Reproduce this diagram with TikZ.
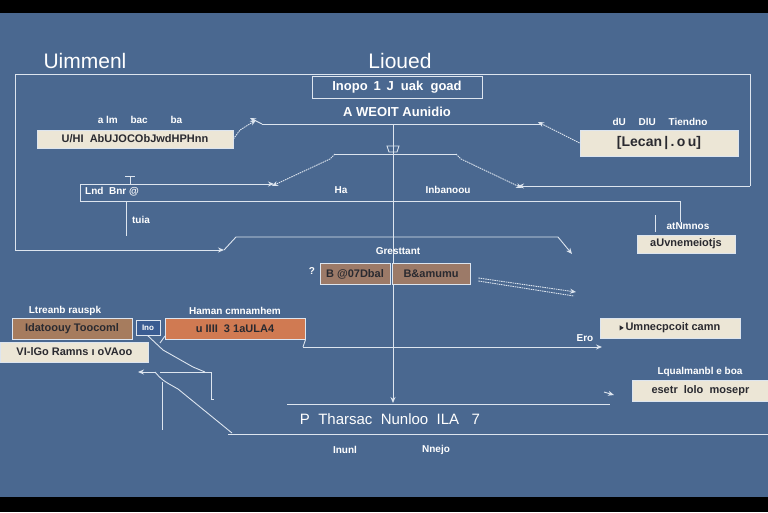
\documentclass[tikz,border=0pt]{standalone}
\usepackage{fontspec}
\setmainfont{Liberation Sans}
\usetikzlibrary{arrows.meta}
\definecolor{bgc}{HTML}{4A6890}
\definecolor{linec}{HTML}{DDE5EF}
\definecolor{cream}{HTML}{ECE6D6}
\definecolor{darktext}{HTML}{2A2A30}
\definecolor{brownb}{HTML}{9C7A68}
\definecolor{brownl}{HTML}{A67C5E}
\definecolor{orangeb}{HTML}{D07A52}
\definecolor{smallb}{HTML}{3A5C92}
\begin{document}
\begin{tikzpicture}[x=1pt,y=-1pt,
  lbl/.style={text=white,font=\bfseries\fontsize{10}{10}\selectfont,inner sep=0pt},
  ttl/.style={text=white,font=\fontsize{21}{21}\selectfont,inner sep=0pt},
  cbox/.style={draw=linec,line width=0.8pt,fill=cream,text=darktext,font=\bfseries\fontsize{11}{11}\selectfont,inner sep=0pt,minimum height=#1},
  cbox/.default=18pt,
  fbox/.style={draw=linec,line width=0.8pt,fill=#1,text=darktext,font=\bfseries\fontsize{11}{11}\selectfont,inner sep=0pt,minimum height=21pt},
  ln/.style={draw=linec,line width=0.9pt},
  tln/.style={draw=linec,line width=0.5pt},
  dln/.style={draw=linec,line width=0.9pt,dash pattern=on 1.5pt off 0.8pt},
  arr/.style={-{Stealth[length=6pt,width=5pt]}}]
\useasboundingbox (0,0) rectangle (768,512);
\fill[black] (0,0) rectangle (768,13);
\fill[black] (0,497) rectangle (768,512);
\fill[bgc] (0,13) rectangle (768,497);

% titles
\node[ttl] (t1) at (85,61) {Uimmenl};
\node[ttl] (t2) at (400,61) {Lioued};

% outer frame
\coordinate (fTL) at (15,74);
\coordinate (fTR) at (750,74);
\coordinate (fBL) at (15,250);
\coordinate (fBe) at (224,250);
\coordinate (fRb) at (750,186);
\coordinate (fRe) at (518,186);
\draw[ln,arr] (fTR) -- (fTL) -- (fBL) -- (fBe);
\draw[ln] (fTR) -- (fRb);
\draw[ln,arr] (fRb) -- (fRe);

% top box
\node[draw=linec,line width=0.9pt,fill=bgc,text=white,font=\bfseries\fontsize{13}{13}\selectfont,minimum width=170pt,minimum height=22pt,inner sep=0pt] (top) at (397,87) {Inopo \,1\, J \ uak \ goad};
\node[lbl,font=\bfseries\fontsize{13}{13}\selectfont] (sub) at (397,112) {A WEOIT Aunidio};

% main horizontal
\coordinate (hL) at (262,124);
\coordinate (hR) at (542,124);
\draw[ln] (hL) -- (hR);
\coordinate (hLa) at (250,118);
\draw[ln,arr] (hL) -- (hLa);

% center vertical
\coordinate (vT) at (393,124);
\coordinate (vB) at (393,403);
\draw[ln,arr] (vT) -- (vB);
\draw[ln] (387,146) -- (399,146) -- (397,152) -- (389,152) -- cycle;

% sub bar
\coordinate (sL) at (335,154);
\coordinate (sR) at (456,154);
\draw[ln] (sL) -- (sR);
\coordinate (dL) at (272,186);
\coordinate (dR) at (522,188);
\draw[dln,arr] (sL) -- ++(-5,5) -- (dL);
\draw[dln,arr] (sR) -- ++(5,5) -- (dR);
\node[lbl] (ha) at (341,190) {Ha};
\node[lbl] (inb) at (448,190) {Inbanoou};

% left top box
\node[lbl] (l1) at (140,120) {a lm \quad bac \quad\quad ba};
\node[cbox,minimum width=196pt] (b1) at (135,139) {U/HI \ AbUJOCObJwdHPHnn};
\coordinate (b1r) at (240,130);
\draw[dln,arr] (b1.east) -- (b1r) -- (256,120);

% right top box
\node[lbl] (r1) at (660,122) {dU \quad DlU \quad Tiendno};
\node[cbox=26pt,minimum width=158pt,font=\bfseries\fontsize{14}{14}\selectfont] (b2) at (659,143) {[Lecan\,|\,.\,o\,u]};
\coordinate (b2a) at (538,122);
\draw[dln,arr] (b2.west) -- (b2a);

% Lnd box
\node[lbl,anchor=west] (lnd) at (85,192) {Lnd \ Bnr @};
\coordinate (lA) at (80,184);
\coordinate (lB) at (80,201);
\coordinate (lC) at (680,201);
\coordinate (lD) at (680,222);
\coordinate (lE) at (274,184);
\draw[ln,arr] (lB) -- (lA) -- (lE);
\draw[ln] (lB) -- (lC) -- (lD);
\draw[ln] (125,176) -- (135,176) (130,176) -- (130,184);
\coordinate (tuT) at (126,201);
\coordinate (tuB) at (126,236);
\draw[ln] (tuT) -- (tuB);
\node[lbl] (tuia) at (141,220) {tuia};

% right mid
\node[lbl] (atn) at (688,226) {atNmnos};
\draw[ln] (655,215) -- (655,232);
\node[cbox,minimum width=98pt] (b3) at (686,244) {aUvnemeiotjs};

% middle bar
\coordinate (mA) at (224,250);
\coordinate (mB) at (236,237);
\coordinate (mC) at (558,237);
\coordinate (mD) at (572,254);
\draw[ln] (mA) -- (mB) -- (mC);
\draw[ln,arr] (mC) -- (mD);
\node[lbl] (gr) at (398,251) {Gresttant};

% brown boxes
\node[fbox=brownb,minimum width=70pt] (br1) at (355,274) {B @07Dbal};
\node[fbox=brownb,minimum width=78pt] (br2) at (431,274) {B\&amumu};
\coordinate (bra) at (576,292);
\draw[dln,arr] (br2.east) ++(8,4) -- (bra);
\draw[dln] (br2.east) ++(8,7) -- (574,296);
\node[lbl] (brq) at (312,271) {?};

% left row
\node[lbl] (lr1) at (65,311) {Ltreanb rauspk};
\node[lbl] (lr2) at (235,311) {Haman cmnamhem};
\node[fbox=brownl,minimum width=120pt] (lb1) at (72,329) {Idatoouy Toocoml};
\node[draw=linec,line width=0.8pt,fill=smallb,text=white,font=\bfseries\fontsize{8}{8}\selectfont,minimum width=24pt,minimum height=15pt,inner sep=0pt] (lb2) at (148,328) {Ino};
\node[fbox=orangeb,minimum width=140pt] (lb3) at (235,329) {u IIII \ 3 1aULA4};
\node[cbox=20pt,minimum width=148pt,anchor=west] (lb4) at (0,352) {VI-lGo Ramns ı oVAoo};

% links below
\coordinate (k0) at (160,372);
\coordinate (k1) at (211,372);
\coordinate (k2) at (211,399);
\coordinate (k3) at (178,389);
\coordinate (k4) at (232,433);
\draw[ln] (lb2.south) -- (163,350) -- (193,367) -- (205,372);
\draw[ln] (k0) -- (k1) -- (k2) -- (214,399);
\draw[ln,arr] (155,372) -- (138,372);
\draw[ln] (155,372) .. controls (162,380) .. (k3) -- (k4);
\draw[tln] (162,382) -- (162,430);
\draw[ln] (160,343) -- (165,336);

% line y 347
\coordinate (pA) at (303,347);
\coordinate (pB) at (602,347);
\draw[ln,arr] (pA) -- (pB);
\draw[ln] (lb3.south east) -- (pA);
\node[lbl] (ero) at (585,338) {Ero};
\node[cbox=20pt,minimum width=140pt] (b4) at (670,328) {{\tikz[baseline=-0.5pt]\fill[darktext] (0,0) -- (0,-5) -- (4,-2.5) -- cycle;}\,Umnecpcoit camn};

% lower right
\node[lbl] (lq) at (700,372) {Lqualmanbl e boa};
\node[cbox=21pt,minimum width=136pt,anchor=west] (b5) at (632,391) {esetr \ lolo \ mosepr};
\coordinate (qA) at (287,404);
\coordinate (qB) at (610,404);
\draw[ln] (qA) -- (qB);
\draw[ln,arr] (604,392) -- (614,395);

% bottom
\node[lbl,font=\fontsize{15}{15}\selectfont] (bt) at (390,419) {P \ Tharsac \ Nunloo \ ILA \ \ 7};
\coordinate (zA) at (228,434);
\coordinate (zB) at (768,434);
\draw[ln] (zA) -- (zB);
\node[lbl] (in1) at (345,450) {Inunl};
\node[lbl] (in2) at (436,450) {Nnejo};
\end{tikzpicture}
\end{document}
